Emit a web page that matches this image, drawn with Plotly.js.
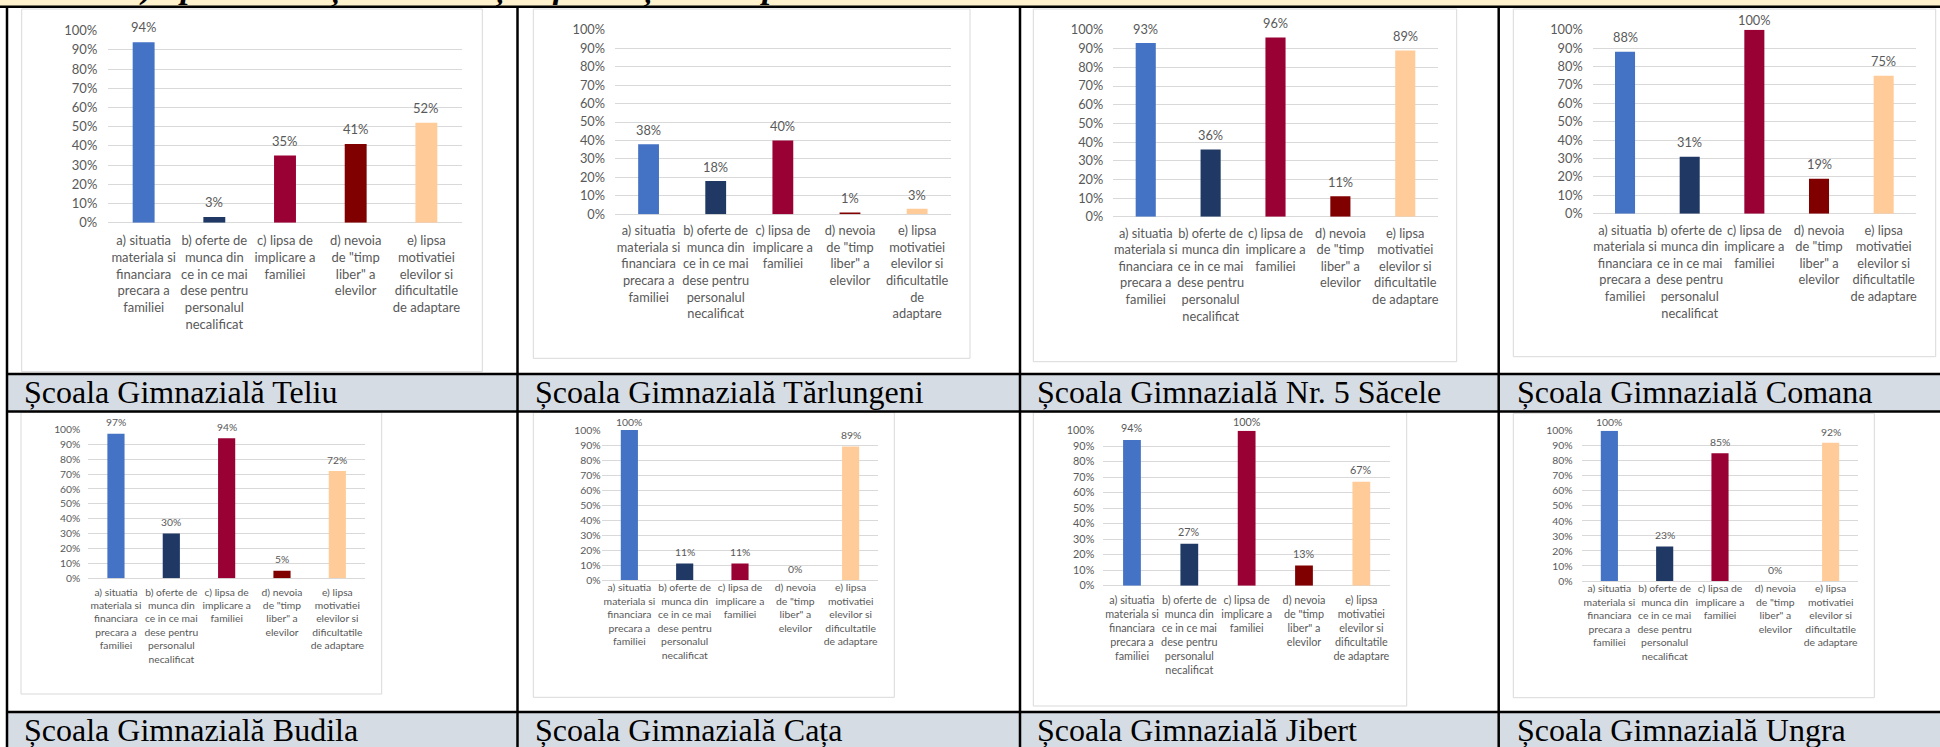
<!DOCTYPE html>
<html><head><meta charset="utf-8">
<script src="https://cdn.plot.ly/plotly-3.0.1.min.js"></script>
<style>html,body{margin:0;padding:0;background:#fff;} #chart{width:1940px;height:747px;}</style>
</head><body><div id="chart"></div>
<script>
// ---------------- DATA ----------------
const categories = ["a", "b", "c", "d", "e"];
const tickLabels = [
  "a) situatia<br>materiala si<br>financiara<br>precara a<br>familiei",
  "b) oferte de<br>munca din<br>ce in ce mai<br>dese pentru<br>personalul<br>necalificat",
  "c) lipsa de<br>implicare a<br>familiei",
  "d) nevoia<br>de \"timp<br>liber\" a<br>elevilor",
  "e) lipsa<br>motivatiei<br>elevilor si<br>dificultatile<br>de adaptare"
];
const tickLabelsNarrow = [
  "a) situatia<br>materiala si<br>financiara<br>precara a<br>familiei",
  "b) oferte de<br>munca din<br>ce in ce mai<br>dese pentru<br>personalul<br>necalificat",
  "c) lipsa de<br>implicare a<br>familiei",
  "d) nevoia<br>de \"timp<br>liber\" a<br>elevilor",
  "e) lipsa<br>motivatiei<br>elevilor si<br>dificultatile<br>de<br>adaptare"
];
const schools = [
  "Școala Gimnazială Teliu", "Școala Gimnazială Tărlungeni",
  "Școala Gimnazială Nr. 5 Săcele", "Școala Gimnazială Comana",
  "Școala Gimnazială Budila", "Școala Gimnazială Cața",
  "Școala Gimnazială Jibert", "Școala Gimnazială Ungra"
];
const valuesTeliu      = [94, 3, 35, 41, 52];
const valuesTarlungeni = [38, 18, 40, 1, 3];
const valuesSacele     = [93, 36, 96, 11, 89];
const valuesComana     = [88, 31, 100, 19, 75];
const valuesBudila     = [97, 30, 94, 5, 72];
const valuesCata       = [100, 11, 11, 0, 89];
const valuesJibert     = [94, 27, 100, 13, 67];
const valuesUngra      = [100, 23, 85, 0, 92];
const barColors = ["#4472C4", "#203864", "#990033", "#800000", "#FFCC99"];
const topHeading = "e) lipsa motivației elevilor și dificultăți de adaptare";

// ---------------- LAYOUT GEOMETRY (px) ----------------
const W = 1940, H = 747;
const px = x => x / W;
const py = y => 1 - y / H;

const panels = [
  {vals: valuesTeliu,      ticks: tickLabels,       xr:[108.3,461.7],  yr:[30.7,222.7], frame:[21.7,9,482.3,371.7],   fs:13,   xs:8, ys:10, off:15,   cap:9},
  {vals: valuesTarlungeni, ticks: tickLabelsNarrow, xr:[615,950.7],    yr:[29.7,214.3], frame:[533.3,9,970,358.3],    fs:12.8, xs:7, ys:9,  off:14.2, cap:9},
  {vals: valuesSacele,     ticks: tickLabels,       xr:[1113.3,1437.7],yr:[30,216.7],   frame:[1033.3,9,1456.7,361.7],fs:12.8, xs:7, ys:9,  off:14.5, cap:9},
  {vals: valuesComana,     ticks: tickLabels,       xr:[1592.7,1916],  yr:[29.7,213.7], frame:[1513.3,9,1935.7,356.7],fs:12.8, xs:7, ys:9,  off:14.5, cap:9.5},
  {vals: valuesBudila,     ticks: tickLabels,       xr:[88.3,365],     yr:[429.3,578.3],frame:[21,412.3,381.7,694],   fs:10.3, xs:6, ys:7,  off:11.5, cap:8.5},
  {vals: valuesCata,       ticks: tickLabels,       xr:[601.7,878.3],  yr:[430,580],    frame:[533.3,412.3,894.3,697.3],fs:10.4,xs:6.5,ys:8.5,off:11.5, cap:8.5},
  {vals: valuesJibert,     ticks: tickLabels,       xr:[1103.3,1390],  yr:[430.7,585.7],frame:[1033.3,412.3,1406.7,706],fs:10.8,xs:6, ys:8,  off:12.2, cap:9},
  {vals: valuesUngra,      ticks: tickLabels,       xr:[1581.7,1858.3],yr:[430.7,581],  frame:[1513.3,413.3,1874.3,697.7],fs:10.4,xs:6.5,ys:8,off:11.2, cap:8.5}
];

const captionX = [21.7, 533.3, 1035, 1515, 21.7, 533.3, 1035, 1515];
const captionY = [392, 392, 392, 392, 730, 730, 730, 730];

const FONT = "Lato, 'Open Sans', sans-serif";
const GREY = "#595959";

const data = [];
const layout = {
  width: W, height: H,
  margin: {l:0, r:0, t:0, b:0, pad:0},
  paper_bgcolor: "#ffffff",
  plot_bgcolor: "rgba(0,0,0,0)",
  showlegend: false,
  bargap: 0.69,
  shapes: [],
  annotations: []
};

// Top band + table structure
layout.shapes.push({type:"rect", xref:"paper", yref:"paper", x0:0, x1:1, y0:py(6.7), y1:1,
  fillcolor:"#FFF2CC", line:{width:0}, layer:"below"});
layout.shapes.push({type:"rect", xref:"paper", yref:"paper", x0:px(7), x1:1, y0:py(411.5), y1:py(374),
  fillcolor:"#D6DCE4", line:{width:0}, layer:"below"});
layout.shapes.push({type:"rect", xref:"paper", yref:"paper", x0:px(7), x1:1, y0:0, y1:py(712),
  fillcolor:"#D6DCE4", line:{width:0}, layer:"below"});

panels.forEach((p, i) => {
  const n = i + 1;
  const xa = n === 1 ? "xaxis" : "xaxis" + n;
  const ya = n === 1 ? "yaxis" : "yaxis" + n;
  const xr = n === 1 ? "x" : "x" + n;
  const yr = n === 1 ? "y" : "y" + n;
  // chart frame
  layout.shapes.push({type:"rect", xref:"paper", yref:"paper",
    x0:px(p.frame[0]), x1:px(p.frame[2]), y0:py(p.frame[3]), y1:py(p.frame[1]),
    fillcolor:"#ffffff", line:{color:"#D9D9D9", width:1}, layer:"below"});
  data.push({
    type:"bar", x: categories, y: p.vals, xaxis: xr, yaxis: yr,
    marker:{color: barColors, line:{width:0}},
    hoverinfo:"skip"
  });
  layout[xa] = {
    domain:[px(p.xr[0]), px(p.xr[1])], anchor: yr,
    type:"category", categoryarray: categories, range:[-0.5, 4.5],
    tickvals: categories, ticktext: p.ticks, tickangle: 0,
    ticks:"", showgrid:false, zeroline:false, showline:false,
    ticklabelstandoff: p.xs,
    tickfont:{family:FONT, size:p.fs, color:GREY},
    fixedrange:true
  };
  layout[ya] = {
    domain:[py(p.yr[1]), py(p.yr[0])], anchor: xr,
    range:[0, 100], dtick:10, tick0:0, ticksuffix:"%",
    ticks:"", showgrid:true, gridcolor:"#D9D9D9", gridwidth:1,
    zeroline:true, zerolinecolor:"#D9D9D9", zerolinewidth:1, showline:false,
    ticklabelstandoff: p.ys,
    tickfont:{family:FONT, size:p.fs, color:GREY},
    fixedrange:true
  };
  const k = (p.yr[1] - p.yr[0]) / 100;
  p.vals.forEach((v, j) => {
    const shift = Math.min(p.off, 100 * k + p.cap - v * k);
    layout.annotations.push({
      x: categories[j], y: v, xref: xr, yref: yr,
      text: v + "%", showarrow:false, yanchor:"middle", xanchor:"center",
      yshift: shift,
      font:{family:FONT, size:p.fs, color:GREY}
    });
  });
  layout.annotations.push({
    x: px(captionX[i]), y: py(captionY[i]), xref:"paper", yref:"paper",
    xanchor:"left", yanchor:"middle", showarrow:false,
    text: schools[i],
    font:{family:"'Liberation Serif', 'Times New Roman', serif", size:32, color:"#000000"}
  });
});

// top heading (mostly clipped at the top edge, as in the reference)
layout.annotations.push({
  x: px(125), y: py(8.5), xref:"paper", yref:"paper", xanchor:"left", yanchor:"bottom",
  showarrow:false, text:"<b><i>" + topHeading + "</i></b>",
  font:{family:"'Liberation Serif', serif", size:34, color:"#000000"}
});

// table borders
const hLines = [6.7, 374, 411.5, 712];
hLines.forEach(y => layout.shapes.push({type:"line", xref:"paper", yref:"paper",
  x0: y === 6.7 ? 0 : px(7), x1:1, y0:py(y), y1:py(y), line:{color:"#000000", width:2.5}}));
const vLines = [7, 517.5, 1020, 1498.7];
vLines.forEach(x => layout.shapes.push({type:"line", xref:"paper", yref:"paper",
  x0:px(x), x1:px(x), y0:py(6.7), y1:0, line:{color:"#000000", width:2.5}}));

Plotly.newPlot("chart", data, layout, {staticPlot:true, displayModeBar:false});
</script>
</body></html>
